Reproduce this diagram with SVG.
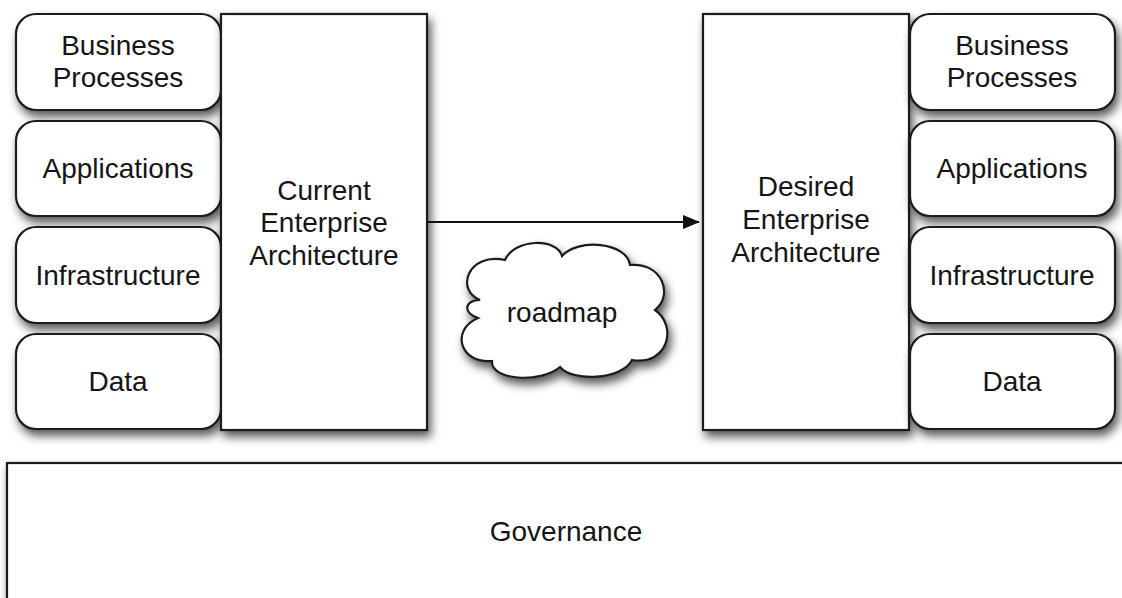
<svg xmlns="http://www.w3.org/2000/svg" width="1122" height="598" viewBox="0 0 1122 598">
  <style>
    .box { fill: #ffffff; stroke: #1c1c1c; stroke-width: 2.2; filter: url(#shadow); }
    .lbl { font-family: "Liberation Sans", Arial, sans-serif; font-size: 28px; fill: #151515; text-anchor: middle; }
    .edge { stroke: #111111; stroke-width: 2; fill: none; }
  </style>
  <defs>
    <filter id="shadow" x="-10%" y="-10%" width="130%" height="130%">
      <feDropShadow dx="3" dy="6" stdDeviation="5" flood-color="#000000" flood-opacity="0.65"/>
    </filter>
    <marker id="arrow" viewBox="0 0 17 14" refX="16" refY="7" markerWidth="17" markerHeight="14" markerUnits="userSpaceOnUse" orient="auto">
      <path d="M0,0 L17,7 L0,14 Z" fill="#111111"/>
    </marker>
  </defs>
  <rect width="1122" height="598" fill="#ffffff"/>

  <!-- governance band -->
  <g id="governance">
    <rect class="box" x="7" y="463" width="1130" height="150"/>
    <text class="lbl" x="566" y="541">Governance</text>
  </g>

  <!-- current state layers -->
  <g id="cur-business">
    <rect class="box" x="16" y="14" width="205" height="96" rx="20"/>
    <text class="lbl" x="118" y="55">Business</text>
    <text class="lbl" x="118" y="87">Processes</text>
  </g>
  <g id="cur-applications">
    <rect class="box" x="16" y="121" width="205" height="95" rx="20"/>
    <text class="lbl" x="118" y="178">Applications</text>
  </g>
  <g id="cur-infrastructure">
    <rect class="box" x="16" y="227" width="205" height="96" rx="20"/>
    <text class="lbl" x="118" y="285">Infrastructure</text>
  </g>
  <g id="cur-data">
    <rect class="box" x="16" y="334" width="205" height="95" rx="20"/>
    <text class="lbl" x="118" y="391">Data</text>
  </g>
  <g id="current-ea">
    <rect class="box" x="221" y="14" width="206" height="416"/>
    <text class="lbl" x="324" y="200">Current</text>
    <text class="lbl" x="324" y="232">Enterprise</text>
    <text class="lbl" x="324" y="265">Architecture</text>
  </g>

  <!-- desired state -->
  <g id="desired-ea">
    <rect class="box" x="703" y="14" width="206" height="416"/>
    <text class="lbl" x="806" y="196">Desired</text>
    <text class="lbl" x="806" y="229">Enterprise</text>
    <text class="lbl" x="806" y="262">Architecture</text>
  </g>
  <g id="des-business">
    <rect class="box" x="910" y="14" width="205" height="96" rx="20"/>
    <text class="lbl" x="1012" y="55">Business</text>
    <text class="lbl" x="1012" y="87">Processes</text>
  </g>
  <g id="des-applications">
    <rect class="box" x="910" y="121" width="205" height="95" rx="20"/>
    <text class="lbl" x="1012" y="178">Applications</text>
  </g>
  <g id="des-infrastructure">
    <rect class="box" x="910" y="227" width="205" height="96" rx="20"/>
    <text class="lbl" x="1012" y="285">Infrastructure</text>
  </g>
  <g id="des-data">
    <rect class="box" x="910" y="334" width="205" height="95" rx="20"/>
    <text class="lbl" x="1012" y="391">Data</text>
  </g>

  <!-- roadmap cloud -->
  <g id="roadmap">
    <path class="box" d="M 480 300 C 455 290, 468 252, 505 260 C 515 238, 557 238, 562 256 C 577 238, 627 242, 630 265 C 662 262, 674 295, 655 310 C 678 326, 668 366, 632 360 C 622 380, 572 382, 560 367 C 540 384, 490 380, 492 361 C 460 364, 450 330, 478 318 C 462 312, 465 300, 480 300 Z"/>
    <text class="lbl" x="562" y="322">roadmap</text>
  </g>

  <!-- connectors -->
  <g id="connectors">
    <line class="edge" x1="427" y1="222" x2="699" y2="222" marker-end="url(#arrow)"/>
  </g>
</svg>
